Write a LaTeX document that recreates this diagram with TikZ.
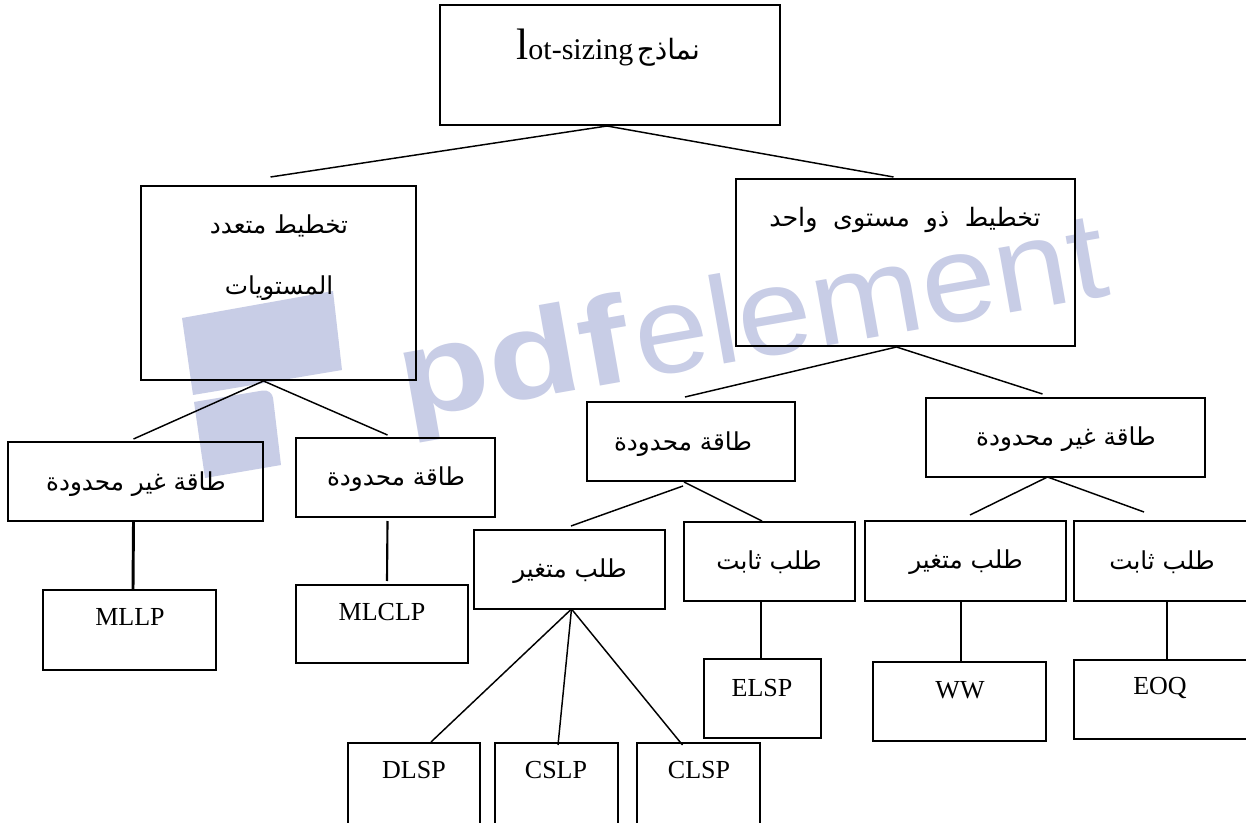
\documentclass[tikz,border=0pt]{standalone}
\usepackage{fontspec}
\setmainfont{Liberation Serif}
\newfontfamily\arabicfont[Script=Arabic]{DejaVu Sans}
\newfontfamily\wmfont{Liberation Sans}
\TeXXeTstate=1
\usetikzlibrary{calc}
\definecolor{wm}{RGB}{200,205,230}
\newcommand{\rtltext}[1]{\beginR #1\endR}
\newcommand{\mkbox}[5]{\node[box, minimum width={(#4-#2)*0.75pt}, minimum height={(#5-#3)*0.75pt}] (#1) at ({(#2+#4)/2},{(#3+#5)/2}) {};}
\begin{document}
\begin{tikzpicture}[x=0.75pt,y=-0.75pt,
  box/.style={draw=black, line width=1.5pt, inner sep=0pt},
  conn/.style={draw=black, line width=1.1pt},
  vconn/.style={draw=black, line width=1.6pt},
  lat/.style={inner sep=0pt, font=\fontsize{19.5}{22}\selectfont},
  arab/.style={inner sep=0pt, font=\arabicfont\fontsize{18.5}{22}\selectfont},
  wmark/.style={text=wm, inner sep=0pt, anchor=base west, rotate=10, yscale=0.93, font=\wmfont\fontsize{100}{100}\selectfont},
  wmbold/.style={wmark, xscale=1.12, font=\wmfont\bfseries\fontsize{100}{100}\selectfont}]
\useasboundingbox (0,0) rectangle (1246,823);
\fill[white] (0,0) rectangle (1246,823);
\clip (0,0) rectangle (1246,823);
% watermark
\fill[wm] (182,318) -- (333,291) -- (342,370) -- (193,395) -- cycle;
\fill[wm] (194,402) [rounded corners=7pt] -- (272,389) [sharp corners] -- (281,465) -- (205,478) -- cycle;
\node[wmbold] (w1) at (405,420) {p};
\node[wmbold] (w2) at (w1.base east) {d};
\node[wmbold] (w3) at (w2.base east) {f};
\node[wmark] (w4) at ($(w3.base east)+(6,-1)$) {e};
\node[wmark] (w5) at (w4.base east) {l};
\node[wmark] (w6) at (w5.base east) {e};
\node[wmark] (w7) at (w6.base east) {m};
\node[wmark] (w8) at (w7.base east) {e};
\node[wmark] (w9) at (w8.base east) {n};
\node[wmark] (w10) at (w9.base east) {t};
% boxes
\mkbox{A}{440}{5}{780}{125}
\mkbox{B}{141}{186}{416}{380}
\mkbox{C}{736}{179}{1075}{346}
\mkbox{D}{8}{442}{263}{521}
\mkbox{E}{296}{438}{495}{517}
\mkbox{F}{43}{590}{216}{670}
\mkbox{G}{296}{585}{468}{663}
\mkbox{H}{587}{402}{795}{481}
\mkbox{I}{926}{398}{1205}{477}
\mkbox{J}{474}{530}{665}{609}
\mkbox{K}{684}{522}{855}{601}
\mkbox{L}{865}{521}{1066}{601}
\mkbox{M}{1074}{521}{1252}{601}
\mkbox{N}{704}{659}{821}{738}
\mkbox{O}{873}{662}{1046}{741}
\mkbox{P}{1074}{660}{1252}{739}
\mkbox{Q}{348}{743}{480}{830}
\mkbox{R}{495}{743}{618}{830}
\mkbox{S}{637}{743}{760}{830}
% texts
\node[inner sep=0pt, anchor=base] (tA) at (608,60) {{\fontsize{33}{33}\selectfont l}{\fontsize{22.5}{26}\selectfont ot-sizing} {\arabicfont\fontsize{21}{24}\selectfont\rtltext{نماذج}}};
\node[arab] (tB1) at (279,226) {\rtltext{تخطيط متعدد}};
\node[arab] (tB2) at (279,288) {\rtltext{المستويات}};
\node[arab, font=\arabicfont\fontsize{19}{22}\selectfont] (tC) at (905,220) {\spaceskip=0.62em\relax\rtltext{تخطيط ذو مستوى واحد}};
\node[arab] (tD) at (136,484) {\rtltext{طاقة غير محدودة}};
\node[arab] (tE) at (396,479) {\rtltext{طاقة محدودة}};
\node[lat] (tF) at (130,617) {MLLP};
\node[lat] (tG) at (382,612) {MLCLP};
\node[arab] (tH) at (683,444) {\rtltext{طاقة محدودة}};
\node[arab] (tI) at (1066,439) {\rtltext{طاقة غير محدودة}};
\node[arab] (tJ) at (570,571) {\rtltext{طلب متغير}};
\node[arab] (tK) at (769,562) {\rtltext{طلب ثابت}};
\node[arab] (tL) at (966,562) {\rtltext{طلب متغير}};
\node[arab] (tM) at (1162,562) {\rtltext{طلب ثابت}};
\node[lat] (tN) at (762,688) {ELSP};
\node[lat] (tO) at (960,690) {WW};
\node[lat] (tP) at (1160,688) {EOQ};
\node[lat] (tQ) at (414,770) {DLSP};
\node[lat] (tR) at (556,770) {CSLP};
\node[lat] (tS) at (699,770) {CLSP};
% connectors
\draw[conn] ($(A.south)+(-3,0)$) -- ($(B.north)+(-8,-8)$);
\draw[conn] ($(A.south)+(-3,0)$) -- ($(C.north)+(-12,-1)$);
\draw[conn] ($(B.south)+(-15,0)$) -- ($(D.north)+(-2,-2)$);
\draw[conn] ($(B.south)+(-15,0)$) -- ($(E.north)+(-8,-2)$);
\draw[draw=black, line width=2.2pt] ($(D.south)+(-2,0)$) -- ($(F.north)+(3.5,0)$);
\draw[vconn] ($(E.south)+(-8,3)$) -- ($(G.north)+(5,-3)$);
\draw[conn] ($(C.south)+(-9,0)$) -- ($(H.north)+(-6,-4)$);
\draw[conn] ($(C.south)+(-9,0)$) -- ($(I.north)+(-23,-3)$);
\draw[conn] ($(H.south)+(-8,4)$) -- ($(J.north)+(1.5,-3)$);
\draw[conn] ($(H.south)+(-7,0)$) -- ($(K.north)+(-7.5,0)$);
\draw[conn] ($(J.south)+(2,-1)$) -- ($(Q.north)+(17,0)$);
\draw[conn] ($(J.south)+(2,-1)$) -- ($(R.north)+(1.5,3)$);
\draw[conn] ($(J.south)+(2,-1)$) -- ($(S.north)+(-16,3)$);
\draw[vconn] ($(K.south)+(-8.5,0)$) -- ($(N.north)+(-1.5,0)$);
\draw[conn] ($(I.south)+(-18,-1)$) -- ($(L.north)+(4.5,-5)$);
\draw[conn] ($(I.south)+(-18,-1)$) -- ($(M.north)+(-19,-8)$);
\draw[vconn] ($(L.south)+(-4.5,0)$) -- ($(O.north)+(1.5,0)$);
\draw[vconn] ($(M.south)+(4,0)$) -- ($(P.north)+(4,0)$);
\end{tikzpicture}
\end{document}
